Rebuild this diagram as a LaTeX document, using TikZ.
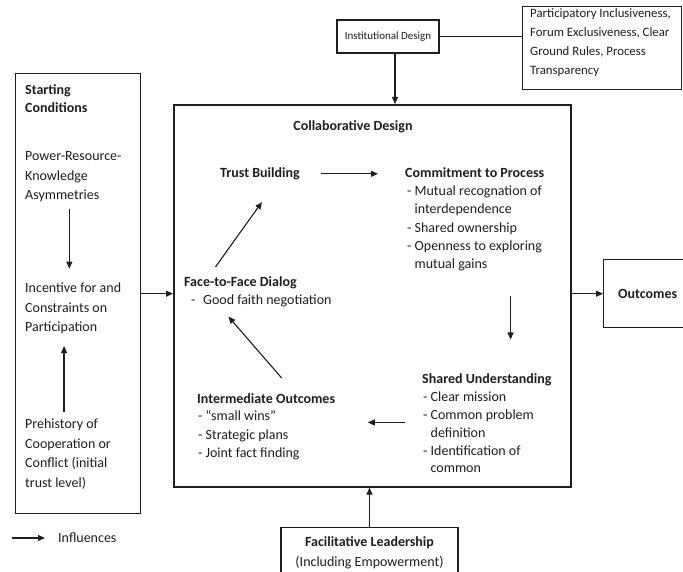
\documentclass[tikz,border=0pt]{standalone}
\usepackage{fontspec}
\setmainfont{Carlito}
\usetikzlibrary{arrows.meta,positioning}
\definecolor{ink}{HTML}{1E1E1E}
\tikzset{
  framebox/.style={
    rectangle, draw=ink, line width=#1, inner sep=0pt
  },
  framebox/.default=1.4pt,
  bodytext/.style={
    font=\fontsize{14}{18.2}\selectfont, text=ink, align=left, inner sep=0pt
  },
  headtext/.style={
    bodytext, font=\fontsize{14}{18.2}\selectfont\bfseries
  },
  starttext/.style={
    bodytext, font=\fontsize{14}{19.5}\selectfont
  },
  smalltext/.style={
    font=\fontsize{#1}{19}\selectfont, text=ink, align=left, inner sep=0pt
  },
  smalltext/.default=12.8,
  flowarrow/.style={
    -{Triangle[length=7pt,width=6pt]}, line width=1.1pt, draw=ink
  },
  connline/.style={
    line width=1.1pt, draw=ink
  },
}

\begin{document}
\begin{tikzpicture}[x=1pt, y=-1pt]
  \useasboundingbox (0,0) rectangle (683,572);

  % Starting conditions column
  \node[framebox, minimum width=125pt, minimum height=440pt, anchor=north west]
    (startbox) at (15,73) {};
  \node[headtext, anchor=north west, font=\fontsize{14}{18}\selectfont\bfseries]
    (starthead) at (25,84.7) {Starting\\Conditions};
  \node[starttext, anchor=north west] (power) at (25,151.7)
    {Power-Resource-\\Knowledge\\Asymmetries};
  \node[starttext, anchor=north west] (incent) at (25,282.7)
    {Incentive for and\\Constraints on\\Participation};
  \node[starttext, anchor=north west] (prehist) at (25,418.7)
    {Prehistory of\\Cooperation or\\Conflict (initial\\trust level)};

  \draw[flowarrow, shorten <=7pt, shorten >=14pt]
    ([xshift=-4pt]power.south) -- ([xshift=-4pt]power.south |- incent.north);
  \draw[flowarrow, shorten <=7pt, shorten >=12pt]
    ([xshift=-4pt]prehist.north) -- ([xshift=-4pt]prehist.north |- incent.south);

  % legend
  \coordinate (legtail) at (12,538);
  \node[bodytext, anchor=west] (legend) at (58,538) {Influences};
  \draw[flowarrow, shorten >=13pt] (legtail) -- (legend.west);

  % Institutional design on top
  \node[framebox=1.2pt, minimum width=102pt, minimum height=33pt, smalltext=11]
    (inst) at (388,36.5) {Institutional Design};
  \node[framebox=1.2pt, minimum width=159pt, minimum height=83pt, anchor=north west]
    (partbox) at (522,6) {};
  \node[smalltext, anchor=north west] (parttext) at (530,8.2)
    {Participatory Inclusiveness,\\Forum Exclusiveness, Clear\\Ground Rules, Process\\Transparency};
  \draw[connline] (inst.east) -- (inst.east -| partbox.west);

  % Collaborative design
  \node[framebox=1.6pt, minimum width=397pt, minimum height=382pt, anchor=north west]
    (mainbox) at (173,104) {};
  \node[headtext, anchor=base] (collab) at (353,130.5) {Collaborative Design};

  \node[headtext, anchor=base west] (trust) at (220,177.5) {Trust Building};
  \node[headtext, anchor=base west] (commit) at (405,177.5) {Commitment to Process};
  \node[bodytext, anchor=north west] (commitlist) at (407,185.7)
    {- Mutual recognation of\\\phantom{- }interdependence\\- Shared ownership\\- Openness to exploring\\\phantom{- }mutual gains};

  \node[headtext, anchor=base west] (shared) at (422,383.5) {Shared Understanding};
  \node[bodytext, anchor=north west, font=\fontsize{14}{17.8}\selectfont] (sharedlist) at (423,391.7)
    {- Clear mission\\- Common problem\\\phantom{- }definition\\- Identification of\\\phantom{- }common};

  \node[headtext, anchor=base west] (inter) at (197,403.5) {Intermediate Outcomes};
  \node[bodytext, anchor=north west] (interlist) at (198,410.7)
    {- “small wins”\\- Strategic plans\\- Joint fact finding};

  \node[headtext, anchor=base west] (face) at (184,286.5) {Face-to-Face Dialog};
  \node[bodytext, anchor=base west] (facelist) at (191,304.5)
    {-\hspace{7.7pt}Good faith negotiation};

  % the cycle
  \draw[flowarrow, shorten <=21pt, shorten >=27pt]
    (trust.east) -- (trust.east -| commit.west);
  \draw[flowarrow, shorten <=25pt, shorten >=34pt]
    ([xshift=36pt]commitlist.south) -- ([xshift=36pt]commitlist.south |- shared.north);
  \draw[flowarrow, shorten <=18pt, shorten >=68pt]
    ([yshift=10pt]sharedlist.west) -- ([yshift=10pt]sharedlist.west -| interlist.east);
  \draw[flowarrow]
    ([xshift=15.5pt,yshift=15.5pt]inter.north) -- ([xshift=-33pt,yshift=-9.5pt]facelist.south);
  \draw[flowarrow]
    ([xshift=-25pt,yshift=9.5pt]face.north) -- ([xshift=2pt,yshift=-22pt]trust.south);

  % outside links
  \node[framebox, minimum width=88pt, minimum height=68pt, anchor=north west, headtext]
    (outcomes) at (603,259) {Outcomes};
  \node[framebox=1.2pt, minimum width=177pt, minimum height=50pt, anchor=north,
        bodytext, align=center, font=\fontsize{14}{20}\selectfont]
    (facil) at (369.5,527) {\textbf{Facilitative Leadership}\\(Including Empowerment)};

  \draw[flowarrow] (startbox.east) -- (startbox.east -| mainbox.west);
  \draw[flowarrow] (mainbox.east |- outcomes.west) -- (outcomes.west);
  \draw[flowarrow] ([xshift=7pt]inst.south) -- ([xshift=7pt]inst.south |- mainbox.north);
  \draw[flowarrow] (facil.north) -- (facil.north |- mainbox.south);
\end{tikzpicture}
\end{document}
